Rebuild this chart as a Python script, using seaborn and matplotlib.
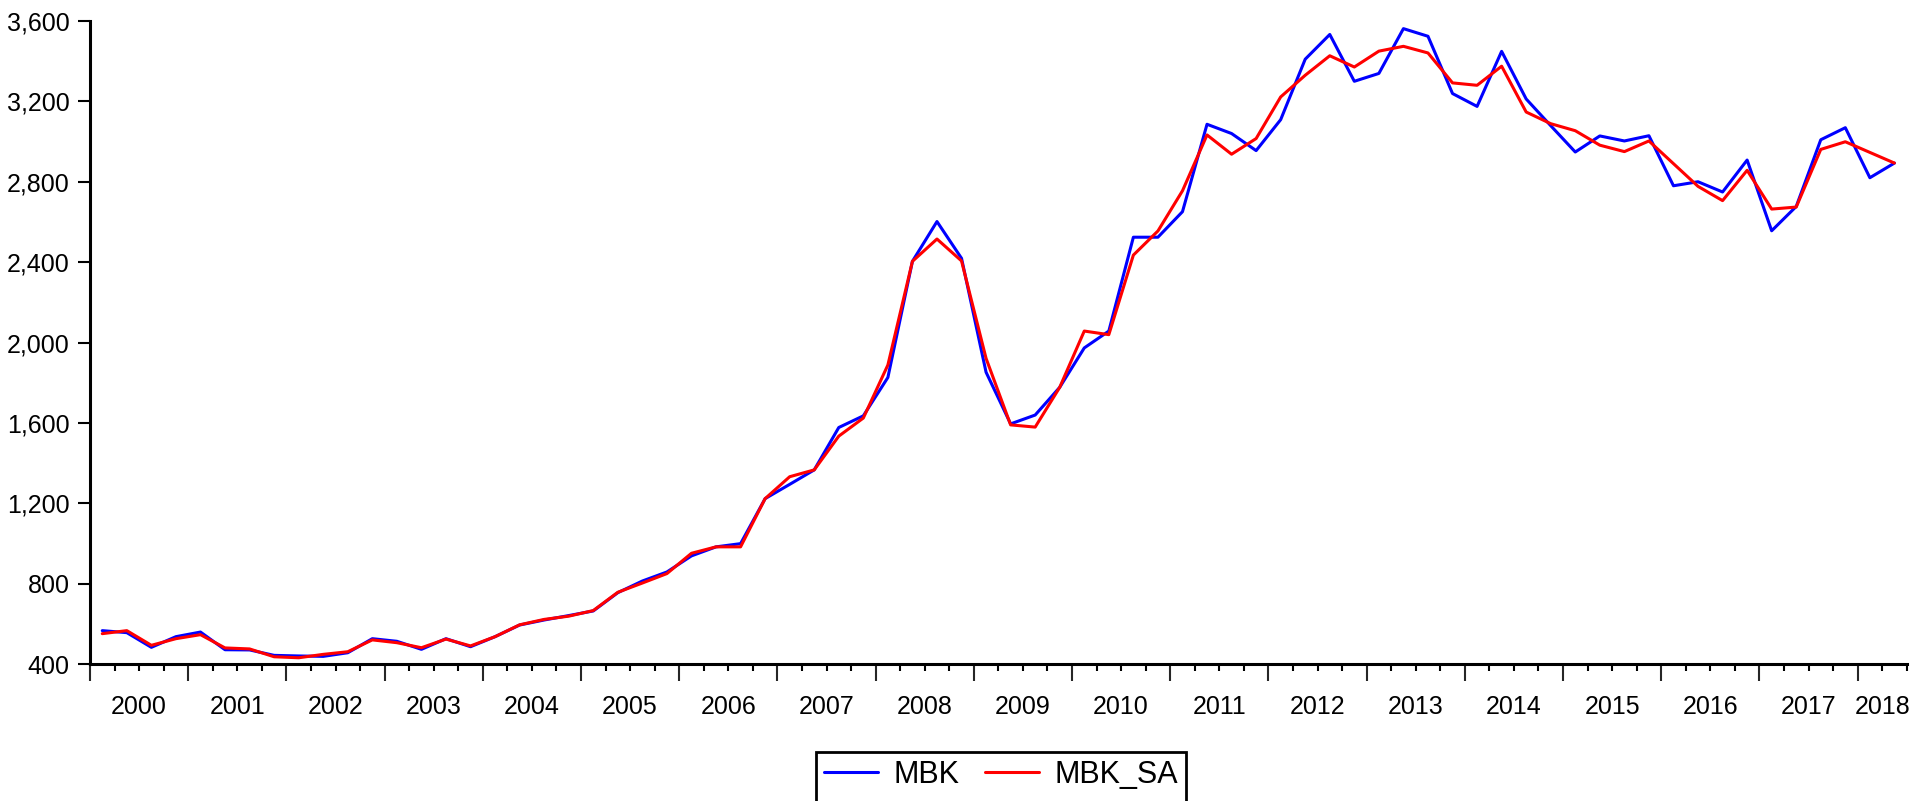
import numpy as np
import pandas as pd
import seaborn as sns
import matplotlib
matplotlib.use('Agg')
import matplotlib.pyplot as plt
from matplotlib.lines import Line2D
from matplotlib.ticker import FixedLocator, FixedFormatter, FuncFormatter, NullFormatter

# quarterly data, 2000Q1 .. 2018Q2
mbk = [566, 556, 483, 536, 559, 471, 470, 443, 440, 438, 456, 526, 513, 473, 526, 486,
       536, 594, 619, 641, 664, 755, 813, 858, 938, 983, 999, 1223, 1294, 1366, 1577, 1635,
       1826, 2404, 2602, 2419, 1852, 1595, 1639, 1777, 1973, 2057, 2524, 2524, 2651, 3086,
       3040, 2955, 3109, 3410, 3533, 3300, 3339, 3562, 3524, 3239, 3175, 3449, 3212, 3079,
       2948, 3028, 3003, 3029, 2780, 2800, 2749, 2908, 2556, 2677, 3009, 3069, 2820, 2893]
mbk_sa = [551, 566, 493, 526, 546, 480, 475, 436, 431, 448, 461, 520, 506, 481, 524, 490,
          536, 595, 622, 638, 666, 757, 803, 850, 951, 983, 983, 1223, 1332, 1366, 1534, 1624,
          1888, 2404, 2515, 2406, 1921, 1590, 1579, 1777, 2057, 2039, 2435, 2555, 2755, 3033,
          2937, 3015, 3222, 3330, 3427, 3371, 3450, 3474, 3441, 3292, 3280, 3375, 3147, 3089,
          3054, 2982, 2950, 3003, 2890, 2777, 2706, 2857, 2664, 2674, 2961, 2999, 2946, 2893]
series_names = ['MBK', 'MBK_SA']
series_colors = {'MBK': '#0000ff', 'MBK_SA': '#ff0000'}
first_year = 2000
years = list(range(2000, 2019))
y_ticks = [400, 800, 1200, 1600, 2000, 2400, 2800, 3200, 3600]

n = len(mbk)
df = pd.DataFrame({'obs': np.arange(n), 'MBK': mbk, 'MBK_SA': mbk_sa})
df = df.melt(id_vars='obs', var_name='series', value_name='value')

sns.set_style('ticks')
plt.rcParams['font.family'] = ['Liberation Sans', 'DejaVu Sans']

W, H = 1921, 801
fig = plt.figure(figsize=(W / 100, H / 100), dpi=100)
ax = fig.add_axes([90 / W, 1 - 664 / H, (1906.7 - 90) / W, (664 - 21) / H])

sns.lineplot(data=df, x='obs', y='value', hue='series', hue_order=series_names,
             palette=series_colors, linewidth=2.2, legend=False, ax=ax)

ax.set_xlim(-0.5, n - 0.5)
ax.set_ylim(y_ticks[0], y_ticks[-1])
ax.set_xlabel('')
ax.set_ylabel('')

# y axis
ax.set_yticks(y_ticks)
ax.yaxis.set_major_formatter(FuncFormatter(lambda v, p: f'{v:,.0f}'))
ax.tick_params(axis='y', direction='out', length=8.5, width=1.5, pad=6,
               labelsize=18, colors='black')

# x axis: long ticks at year starts, short ticks at quarters, year labels centered
year_starts = [(y - first_year) * 4 - 0.5 for y in years]
quarter_bounds = [k - 0.5 for k in range(1, n + 1) if k % 4 != 0]
labels = {}
for y in years:
    k = (y - first_year) * 4
    mid = k + 2 if k + 2 <= n - 1 else k + (n - k) // 2
    labels[mid - 0.5] = str(y)
ax.xaxis.set_major_locator(FixedLocator(year_starts))
ax.xaxis.set_major_formatter(NullFormatter())
ax.xaxis.set_minor_locator(FixedLocator(quarter_bounds))
ax.xaxis.set_minor_formatter(FixedFormatter([labels.get(b, '') for b in quarter_bounds]))
ax.tick_params(axis='x', which='major', direction='out', length=12, width=1.5)
ax.tick_params(axis='x', which='minor', direction='out', length=5, width=1.5,
               pad=17, labelsize=18, colors='black')

sns.despine(ax=ax)
for side in ['left', 'bottom']:
    ax.spines[side].set_linewidth(2.2)
    ax.spines[side].set_color('black')

# legend box runs past the bottom edge of the picture, like the original
blank = Line2D([], [], linestyle='none')
handles = [ax.lines[0], blank, ax.lines[1], blank]
leg = fig.legend(handles=handles, labels=[series_names[0], ' ', series_names[1], ' '],
                 loc='upper left', bbox_to_anchor=(816 / W, 1 - 752 / H), ncol=2,
                 fontsize=22, frameon=True, fancybox=False, edgecolor='black',
                 framealpha=1, handlelength=1.77, handletextpad=0.52,
                 columnspacing=0.82, borderpad=0.25, borderaxespad=0, labelspacing=0.5)
leg.get_frame().set_linewidth(2)
for t in leg.get_texts():
    t.set_color('black')

fig.savefig('out.png', dpi=100)
